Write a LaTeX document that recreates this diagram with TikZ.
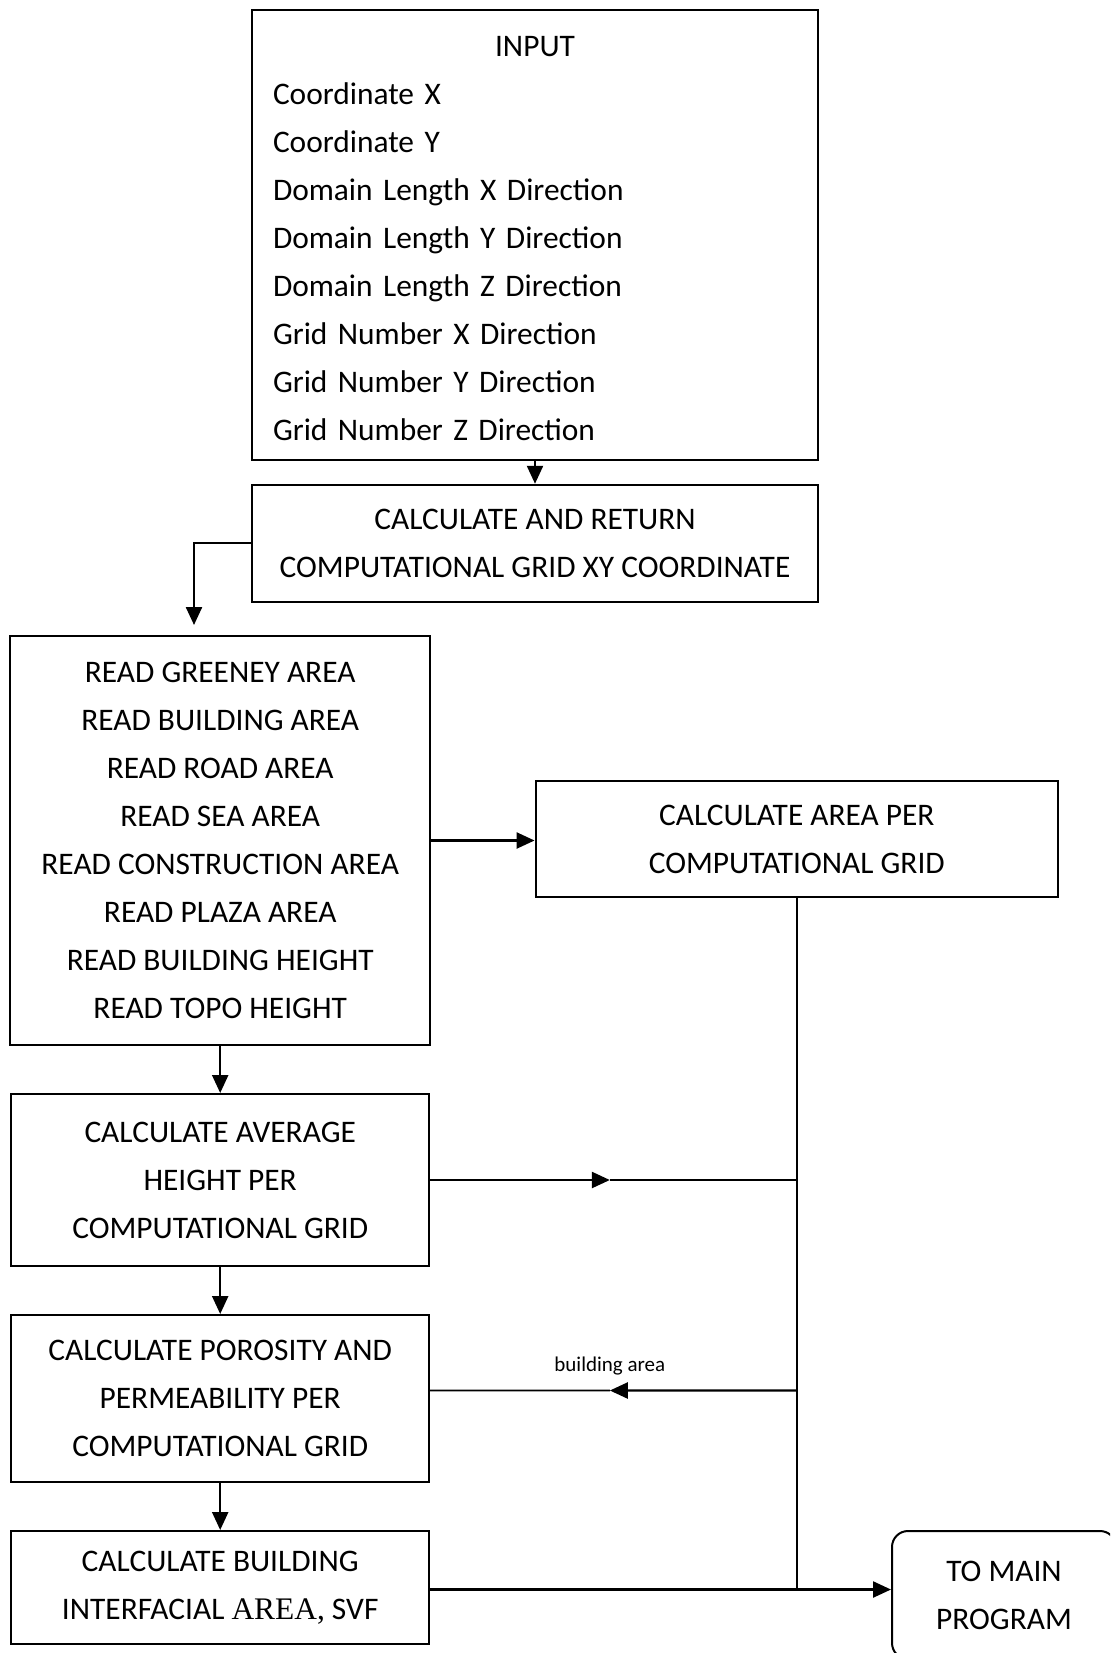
\documentclass[tikz,border=0pt]{standalone}
\usepackage{fontspec}
\setmainfont{Carlito}
\newfontfamily\timesfont{Liberation Serif}
\usetikzlibrary{positioning,arrows.meta,calc}

\begin{document}
\begin{tikzpicture}[
    every node/.style={font=\fontsize{15.7pt}{24pt}\selectfont},
    box/.style={draw, line width=1pt, rectangle, align=center, inner sep=0pt},
    flow/.style={-{Triangle[length=9pt,width=8pt]}, line width=1.2pt},
    link/.style={line width=0.9pt}
  ]
  \clip (0,0) rectangle (555pt,-826.5pt);

  % Nodes
  \node[box, align=left, text width=262pt, inner xsep=10.5pt, minimum height=224.75pt] (input) at (267.5pt,-117.5pt) {\makebox[\linewidth]{\rule{0pt}{14.1pt}INPUT}\\Coordinate X\\Coordinate Y\\Domain Length X Direction\\Domain Length Y Direction\\Domain Length Z Direction\\Grid Number X Direction\\Grid Number Y Direction\\Grid Number Z Direction};
  \node[box, minimum width=283pt, minimum height=58.5pt, below=11.5pt of input] (calcgrid) {CALCULATE AND RETURN\\COMPUTATIONAL GRID XY COORDINATE};
  \node[box, minimum width=209.75pt, minimum height=204.5pt] (readarea) at (110.1pt,-420.25pt) {READ GREENEY AREA\\READ BUILDING AREA\\READ ROAD AREA\\READ SEA AREA\\READ CONSTRUCTION AREA\\READ PLAZA AREA\\READ BUILDING HEIGHT\\READ TOPO HEIGHT};
  \node[box, minimum width=261.25pt, minimum height=58pt] (areagrid) at (398.4pt,-419.5pt) {CALCULATE AREA PER\\COMPUTATIONAL GRID};
  \node[box, minimum width=209pt, minimum height=86pt, below=23.5pt of readarea] (avgheight) {CALCULATE AVERAGE\\HEIGHT PER\\COMPUTATIONAL GRID};
  \node[box, minimum width=209pt, minimum height=83.5pt, below=23.5pt of avgheight] (porosity) {CALCULATE POROSITY AND\\PERMEABILITY PER\\COMPUTATIONAL GRID};
  \node[box, minimum width=209pt, minimum height=56.5pt, below=23.5pt of porosity] (interface) {CALCULATE BUILDING\\INTERFACIAL {\timesfont AREA,} SVF};
  \node[box, rounded corners=8pt, minimum width=112pt, minimum height=64pt] (mainprog) at (502pt,-797.5pt) {TO MAIN\\PROGRAM};

  \coordinate (readin) at (97pt,-312.5pt);
  \coordinate (bldout) at ([yshift=-1pt]interface.east);
  \coordinate (spinebottom) at (areagrid.south |- bldout);
  \coordinate (hgtjoin) at (areagrid.south |- avgheight.east);
  \coordinate (hgtmid) at ($(avgheight.east)!0.49!(hgtjoin)$);
  \coordinate (porjoin) at ([yshift=4pt]areagrid.south |- porosity.east);
  \coordinate (porend) at ([yshift=4pt]porosity.east);
  \coordinate (pormid) at ($(porjoin)!0.51!(porend)$);

  % Paths
  \draw[flow] (input) -- (calcgrid);
  \draw[flow] (calcgrid.west) -| (readin);
  \draw[flow] (readarea.east) -- (readarea.east -| areagrid.west);
  \draw[flow] (readarea) -- (avgheight);
  \draw[flow] (avgheight) -- (porosity);
  \draw[flow] (porosity) -- (interface);
  \draw[link] (areagrid.south) -- (spinebottom);
  \draw[flow] (avgheight.east) -- (hgtmid);
  \draw[link] (hgtmid) -- (hgtjoin);
  \draw[flow] (porjoin) -- (pormid);
  \draw[link] (pormid) -- (porend);
  \node[font=\fontsize{10.5pt}{12pt}\selectfont, above=4pt of pormid] (bldlabel) {building area};
  \draw[flow] (bldout) -- (bldout -| mainprog.west);
\end{tikzpicture}
\end{document}
